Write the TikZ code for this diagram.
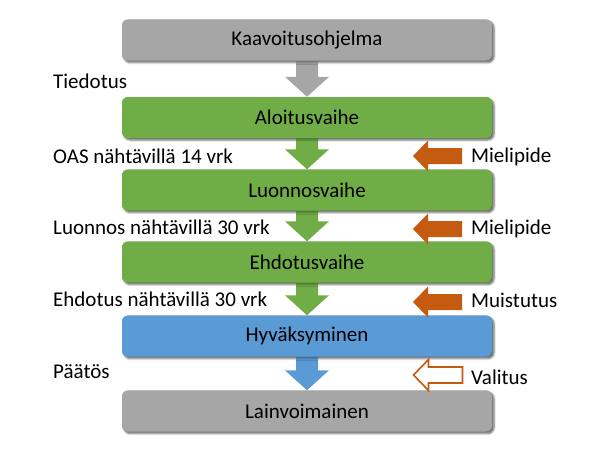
\documentclass[tikz,border=0pt]{standalone}
\usepackage{fontspec}
\setmainfont{Carlito}
\usetikzlibrary{calc,shadows.blur}
\definecolor{cgray}{HTML}{A6A6A6}
\definecolor{cgreen}{HTML}{70AD47}
\definecolor{cblue}{HTML}{5B9BD5}
\definecolor{corange}{HTML}{C55A11}
\tikzset{
  stage/.style={rounded corners=6pt, minimum width=370pt, minimum height=41pt, inner sep=0pt,
    font=\fontsize{21}{25}\selectfont, text=black,
    blur shadow={shadow xshift=2pt, shadow yshift=-2pt, shadow blur steps=4, shadow opacity=35}},
  lbl/.style={anchor=west, inner sep=0pt, font=\fontsize{21}{25}\selectfont},
}
\newcommand\downblock[3]{%
  \fill[#3] ($(#1.south)+(-11,0)$) -- ($(#1.south)+(11,0)$) -- ($(#2.north)+(11,-20)$)
    -- ($(#2.north)+(22,-20)$) -- ($(#2.north)+(0,0)$) -- ($(#2.north)+(-22,-20)$)
    -- ($(#2.north)+(-11,-20)$) -- cycle;}
\newcommand\leftblock[2]{% node name (tip coordinate), style
  \path[#2] (#1) -- ++(15,-15.5) -- ++(0,7.5) -- ++(34,0) -- ++(0,16) -- ++(-34,0) -- ++(0,7.5) -- cycle;}
\begin{document}
\begin{tikzpicture}[x=1pt,y=-1pt]
\useasboundingbox (0,0) rectangle (601,458);
% arrows first (under boxes)
\node[stage, fill=cgray, draw=none] (k) at (307,40) {};
\node[stage, fill=cgreen] (a) at (307,117.5) {};
\node[stage, fill=cgreen] (l) at (307,190) {};
\node[stage, fill=cgreen] (e) at (307,262) {};
\node[stage, fill=cblue] (h) at (307,336) {};
\node[stage, fill=cgray] (p) at (307,411) {};
\begin{scope}[xshift=2pt]
\downblock{k}{a}{cgray}
\downblock{a}{l}{cgreen}
\downblock{l}{e}{cgreen}
\downblock{e}{h}{cgreen}
\downblock{h}{p}{cblue}
\end{scope}
\node[stage, fill=cgray] at (k) {Kaavoitusohjelma};
\node[stage, fill=cgreen] at (a) {Aloitusvaihe};
\node[stage, fill=cgreen] at (l) {Luonnosvaihe};
\node[stage, fill=cgreen] at (e) {Ehdotusvaihe};
\node[stage, fill=cblue] at (h) {Hyväksyminen};
\node[stage, fill=cgray] at (p) {Lainvoimainen};
% left labels
\node[lbl] (t1) at (53,81) {Tiedotus};
\node[lbl] (t2) at (53,156) {OAS nähtävillä 14 vrk};
\node[lbl] (t3) at (53,227) {Luonnos nähtävillä 30 vrk};
\node[lbl] (t4) at (53,299) {Ehdotus nähtävillä 30 vrk};
\node[lbl] (t5) at (53,372) {Päätös};
% right labels
\node[lbl] (r1) at (471,157) {Mielipide};
\node[lbl] (r2) at (471,229) {Mielipide};
\node[lbl] (r3) at (471,300) {Muistutus};
\node[lbl] (r4) at (471,377) {Valitus};
% side arrows
\coordinate (c1) at (413,156);
\coordinate (c2) at (413,229);
\coordinate (c3) at (413,302);
\coordinate (c4) at (413.5,375);
\leftblock{c1}{fill=corange}
\leftblock{c2}{fill=corange}
\leftblock{c3}{fill=corange}
\leftblock{c4}{draw=corange, line width=1.6pt, fill=white}
\end{tikzpicture}
\end{document}
